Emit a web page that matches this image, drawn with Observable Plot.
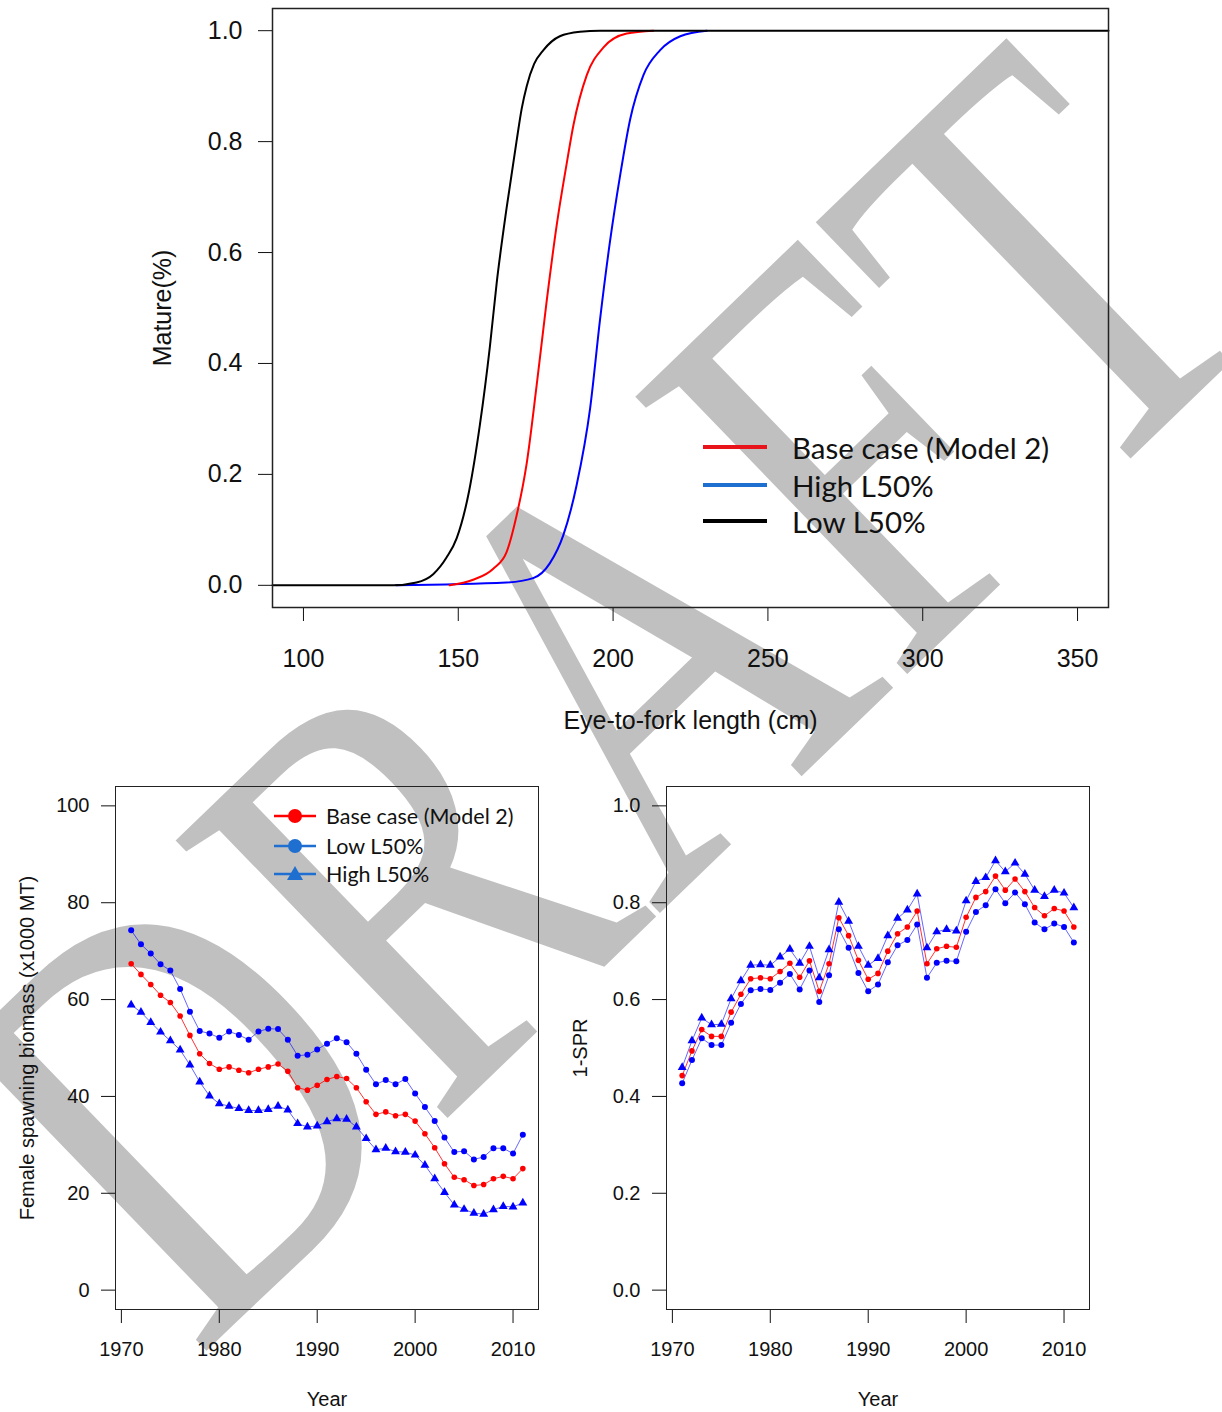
<!DOCTYPE html>
<html><head><meta charset="utf-8">
<script src="https://cdn.jsdelivr.net/npm/d3@7"></script>
<script src="https://cdn.jsdelivr.net/npm/@observablehq/plot@0.6"></script>
<style>
body{margin:0;background:#fff;}
#page{position:relative;width:1222px;height:1412px;overflow:hidden;font-family:"Liberation Sans",Arial,sans-serif;}
.layer{position:absolute;}
.lg{position:absolute;font-family:Lato,"Open Sans",sans-serif;color:#111;white-space:nowrap;display:flex;align-items:center;}
</style></head><body><div id="page"></div>
<script>
// ---------- Top panel: maturity curves ----------
const lengthTicks = [100, 150, 200, 250, 300, 350];
const matureTicks = [0, 0.2, 0.4, 0.6, 0.8, 1.0];
const lowL50_len = [90, 129, 136.5, 141.9, 146.2, 149.5, 153.5, 157, 160.2, 162.4, 165.6, 168.8, 170.5, 172.1, 174.5, 177.5, 182.8, 189.3, 195.8, 360];
const lowL50_mat = [0, 0, 0.005, 0.02, 0.05, 0.085, 0.17, 0.29, 0.43, 0.545, 0.68, 0.80, 0.86, 0.90, 0.94, 0.965, 0.99, 0.998, 1, 1];
const base_len = [147.2, 154.8, 161.3, 165.6, 168.8, 172.1, 175.3, 178.5, 181.8, 185, 187.2, 191.5, 196.9, 204.4, 213];
const base_mat = [0, 0.01, 0.03, 0.06, 0.125, 0.22, 0.36, 0.51, 0.65, 0.76, 0.83, 0.92, 0.97, 0.995, 1];
const highL50_len = [129.9, 165.6, 174.2, 179.6, 183.9, 188.2, 192.6, 195.8, 199, 202.3, 205.5, 209.8, 215.2, 221.7, 230.3];
const highL50_mat = [0, 0.005, 0.013, 0.04, 0.09, 0.18, 0.32, 0.48, 0.62, 0.74, 0.84, 0.92, 0.965, 0.99, 1];

// ---------- Bottom panels ----------
const years = [1971,1972,1973,1974,1975,1976,1977,1978,1979,1980,1981,1982,1983,1984,1985,1986,1987,1988,1989,1990,
               1991,1992,1993,1994,1995,1996,1997,1998,1999,2000,2001,2002,2003,2004,2005,2006,2007,2008,2009,2010,2011];
const yearTicks = [1970, 1980, 1990, 2000, 2010];
const ssbTicks = [0, 20, 40, 60, 80, 100];
const sprTicks = [0, 0.2, 0.4, 0.6, 0.8, 1.0];

const ssbBase = [67.4,65.2,63.1,60.9,59.4,56.6,52.6,48.8,46.8,45.6,46.1,45.4,44.9,45.6,46.1,46.7,45.2,41.8,41.3,42.3,
                 43.5,44.1,43.7,41.8,38.9,36.3,36.8,36.0,36.3,34.9,32.3,29.4,26.1,23.3,22.8,21.6,21.8,23.0,23.5,23.0,25.1];
const ssbLow  = [74.3,71.4,69.5,67.3,66.0,62.2,57.5,53.5,53.0,52.1,53.4,52.7,51.7,53.4,54.0,53.9,51.7,48.4,48.6,49.7,
                 50.9,52.0,51.2,48.8,45.5,42.5,43.4,42.5,43.6,40.6,37.8,34.9,31.5,28.5,28.7,27.0,27.5,29.3,29.3,28.2,32.1];
const ssbHigh = [58.9,57.4,55.3,53.3,51.5,49.6,46.5,43.0,40.1,38.5,38.0,37.5,37.1,37.1,37.3,38.0,37.2,34.4,33.7,33.9,
                 34.8,35.4,35.3,33.7,31.3,29.0,29.3,28.6,28.5,27.9,25.8,23.0,20.2,17.6,16.7,15.9,15.7,16.6,17.3,17.2,18.0];

const sprBase = [0.443,0.494,0.538,0.524,0.524,0.574,0.611,0.643,0.645,0.643,0.658,0.675,0.646,0.680,
                 0.617,0.674,0.769,0.732,0.681,0.642,0.654,0.700,0.736,0.750,0.783,0.674,0.705,0.710,0.708,
                 0.770,0.811,0.823,0.855,0.826,0.849,0.823,0.790,0.773,0.788,0.783,0.750];
const sprLow  = [0.427,0.475,0.520,0.506,0.506,0.552,0.591,0.619,0.622,0.620,0.635,0.653,0.621,0.660,
                 0.595,0.650,0.745,0.707,0.655,0.617,0.631,0.677,0.712,0.723,0.755,0.645,0.676,0.680,0.679,
                 0.740,0.781,0.795,0.828,0.799,0.821,0.797,0.759,0.745,0.757,0.750,0.718];
const sprHigh = [0.460,0.515,0.562,0.548,0.549,0.602,0.639,0.671,0.672,0.671,0.688,0.704,0.675,0.710,
                 0.645,0.703,0.801,0.762,0.710,0.671,0.685,0.732,0.768,0.785,0.818,0.707,0.740,0.745,0.742,
                 0.804,0.844,0.852,0.887,0.864,0.882,0.859,0.826,0.813,0.826,0.820,0.790];

const RED = "#ff0000", BLUE = "#0000ff";
const page = document.getElementById("page");

// ---------- watermark (stretched serif "DRAFT") ----------
const wm = document.createElementNS("http://www.w3.org/2000/svg", "svg");
wm.setAttribute("width", 1222); wm.setAttribute("height", 1412);
wm.setAttribute("class", "layer"); wm.style.left = "0px"; wm.style.top = "0px";
wm.innerHTML = `<text x="0" y="0" transform="translate(197,1360) rotate(-44) scale(1,1.29)" text-anchor="start"
  font-family="Liberation Serif, Times New Roman, serif" font-size="460" fill="#c0c0c0">DRAFT</text>`;
page.appendChild(wm);

function place(node, left, top) {
  node.classList.add("layer");
  node.style.left = left + "px"; node.style.top = top + "px";
  page.appendChild(node);
}

// ---------- Top plot ----------
const pts = (xs, ys) => xs.map((x, i) => ({x, y: ys[i]}));
const topPlot = Plot.plot({
  width: 1222, height: 770,
  marginLeft: 272, marginRight: 114, marginTop: 8, marginBottom: 163,
  style: {background: "transparent", fontFamily: "Liberation Sans, Arial, sans-serif", fontSize: "25px", color: "#111"},
  x: {domain: [90, 360], ticks: lengthTicks, tickFormat: "d", tickSize: 14, tickPadding: 28,
      label: "Eye-to-fork length (cm)", labelAnchor: "center", labelOffset: 121, labelArrow: "none"},
  y: {domain: [-0.04, 1.04], ticks: matureTicks, tickFormat: ".1f", tickSize: 14, tickPadding: 16,
      label: "Mature(%)", labelAnchor: "center", labelOffset: 119, labelArrow: "none"},
  marks: [
    Plot.line(pts(highL50_len, highL50_mat), {x: "x", y: "y", stroke: BLUE, strokeWidth: 2, curve: "monotone-x"}),
    Plot.line(pts(base_len, base_mat), {x: "x", y: "y", stroke: RED, strokeWidth: 2, curve: "monotone-x"}),
    Plot.line(pts(lowL50_len, lowL50_mat), {x: "x", y: "y", stroke: "#000", strokeWidth: 2, curve: "monotone-x"}),
    Plot.frame({stroke: "#222", strokeWidth: 1.5})
  ]
});
place(topPlot, 0, 0);

// ---------- Bottom plots ----------
const ssbRows = [], sprRows = [];
years.forEach((yr, i) => {
  ssbRows.push({year: yr, v: ssbHigh[i], s: "High"}, {year: yr, v: ssbLow[i], s: "Low"}, {year: yr, v: ssbBase[i], s: "Base"});
  sprRows.push({year: yr, v: sprHigh[i], s: "High"}, {year: yr, v: sprLow[i], s: "Low"}, {year: yr, v: sprBase[i], s: "Base"});
});

function seriesMarks(rows) {
  const f = s => rows.filter(d => d.s === s);
  return [
    Plot.line(f("High"), {x: "year", y: "v", stroke: BLUE, strokeWidth: 1, strokeOpacity: 0.6}),
    Plot.line(f("Low"), {x: "year", y: "v", stroke: BLUE, strokeWidth: 1, strokeOpacity: 0.6}),
    Plot.line(f("Base"), {x: "year", y: "v", stroke: RED, strokeWidth: 1, strokeOpacity: 0.8}),
    Plot.dot(f("High"), {x: "year", y: "v", fill: BLUE, r: 3.3, symbol: "triangle"}),
    Plot.dot(f("Low"), {x: "year", y: "v", fill: BLUE, r: 3}),
    Plot.dot(f("Base"), {x: "year", y: "v", fill: RED, r: 2.8})
  ];
}
const common = {
  height: 642, marginTop: 16, marginBottom: 103,
  style: {background: "transparent", fontFamily: "Liberation Sans, Arial, sans-serif", fontSize: "20px", color: "#111"}
};
const xYear = {domain: [1969.4, 2012.6], ticks: yearTicks, tickFormat: "d", tickSize: 14, tickPadding: 18,
               label: "Year", labelAnchor: "center", labelOffset: 96, labelArrow: "none"};

const left = Plot.plot({
  ...common, width: 560, marginLeft: 115, marginRight: 22,
  x: xYear,
  y: {domain: [-4, 104], ticks: ssbTicks, tickSize: 14, tickPadding: 12,
      label: "Female spawning biomass (x1000 MT)", labelAnchor: "center", labelOffset: 96, labelArrow: "none"},
  marks: [...seriesMarks(ssbRows), Plot.frame({stroke: "#222"})]
});
place(left, 0, 770);

const right = Plot.plot({
  ...common, width: 662, marginLeft: 106, marginRight: 133,
  x: xYear,
  y: {domain: [-0.04, 1.04], ticks: sprTicks, tickFormat: ".1f", tickSize: 14, tickPadding: 12,
      label: "1-SPR", labelAnchor: "center", labelOffset: 94, labelArrow: "none"},
  marks: [...seriesMarks(sprRows), Plot.frame({stroke: "#222"})]
});
place(right, 560, 770);

// ---------- Legends ----------
const topLegend = [["Base case (Model 2)", "#e8141c"], ["High L50%", "#1f6fd0"], ["Low L50%", "#000"]];
const topY = [447, 485, 521];
topLegend.forEach(([label, col], i) => {
  const d = document.createElement("div");
  d.className = "lg";
  d.style.left = "703px"; d.style.top = (topY[i] - 18) + "px"; d.style.height = "36px"; d.style.fontSize = "29.5px";
  d.innerHTML = `<span style="display:inline-block;width:64px;height:4px;background:${col};margin-right:25px"></span><span>${label}</span>`;
  page.appendChild(d);
});

const botLegend = [["Base case (Model 2)", RED, "circle"], ["Low L50%", "#1f6fd0", "circle"], ["High L50%", "#1f6fd0", "triangle"]];
const botY = [816, 846, 874];
botLegend.forEach(([label, col, sym], i) => {
  const d = document.createElement("div");
  d.className = "lg";
  d.style.left = "274px"; d.style.top = (botY[i] - 14) + "px"; d.style.height = "28px"; d.style.fontSize = "21.5px";
  const mk = sym === "circle"
    ? `<circle cx="21" cy="10" r="7" fill="${col}"/>`
    : `<path d="M21,2 L29,16 L13,16 Z" fill="${col}"/>`;
  d.innerHTML = `<svg width="42" height="20" style="margin-right:10px"><line x1="0" x2="42" y1="10" y2="10" stroke="${col}" stroke-width="2.5"/>${mk}</svg><span>${label}</span>`;
  page.appendChild(d);
});
</script></body></html>
